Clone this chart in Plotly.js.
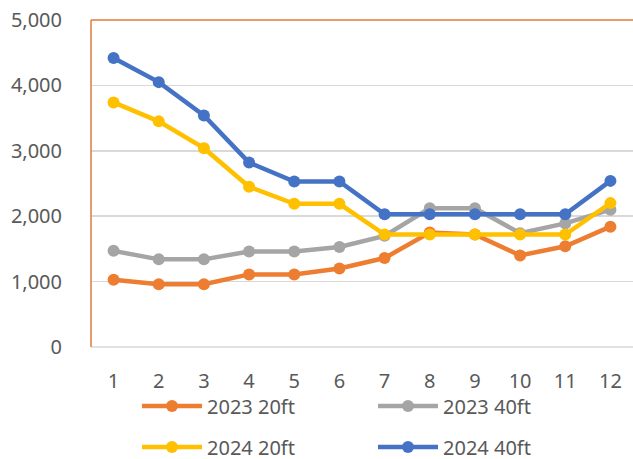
<!DOCTYPE html>
<html><head><meta charset="utf-8">
<script src="https://cdn.plot.ly/plotly-3.0.1.min.js"></script>
<style>html,body{margin:0;padding:0;background:#fff}#c{width:633px;height:459px}</style>
</head><body><div id="c"></div>
<script>
const months = ["1","2","3","4","5","6","7","8","9","10","11","12"];
const s2023_20 = [1030, 960, 960, 1110, 1110, 1200, 1360, 1750, 1720, 1400, 1540, 1840];
const s2023_40 = [1470, 1340, 1340, 1460, 1460, 1530, 1700, 2120, 2120, 1740, 1890, 2100];
const s2024_20 = [3740, 3450, 3040, 2450, 2190, 2190, 1720, 1720, 1720, 1720, 1720, 2200];
const s2024_40 = [4420, 4050, 3540, 2820, 2530, 2530, 2030, 2030, 2030, 2030, 2030, 2540];
const names = ["2023 20ft", "2023 40ft", "2024 20ft", "2024 40ft"];
const colors = ["#ED7D31", "#A5A5A5", "#FFC000", "#4472C4"];
const yTicks = [0, 1000, 2000, 3000, 4000, 5000];

const series = [s2023_20, s2023_40, s2024_20, s2024_40];
const traces = series.map((v, i) => ({
  x: months, y: v, name: names[i], type: "scatter", mode: "lines+markers",
  line: {color: colors[i], width: 4.5},
  marker: {color: colors[i], size: 12},
  legend: i < 2 ? "legend" : "legend2"
}));

const FONT = "Noto Sans, Open Sans, sans-serif";
const legendCommon = {
  orientation: "h", xref: "container", yref: "container",
  xanchor: "left", yanchor: "middle",
  font: {family: FONT, size: 20, color: "#595959"},
  itemwidth: 60, entrywidth: 161, entrywidthmode: "pixels",
  bgcolor: "rgba(0,0,0,0)", traceorder: "normal"
};

const layout = {
  width: 633, height: 459,
  margin: {l: 91, r: 0, t: 20, b: 112},
  paper_bgcolor: "#fff", plot_bgcolor: "#fff",
  showlegend: true,
  legend: Object.assign({}, legendCommon, {x: 137/633, y: 1 - 406/459}),
  legend2: Object.assign({}, legendCommon, {x: 137/633, y: 1 - 447/459}),
  xaxis: {
    type: "category", range: [-0.5, 11.5],
    showgrid: false, zeroline: false, showline: false,
    ticks: "outside", ticklen: 16, tickcolor: "rgba(0,0,0,0)",
    tickfont: {family: FONT, size: 20, color: "#595959"}
  },
  yaxis: {
    range: [0, 5000], tickvals: yTicks, tickformat: ",d",
    showgrid: true, gridcolor: "#D9D9D9", gridwidth: 1.5,
    zeroline: false, showline: false,
    ticks: "outside", ticklen: 24, tickcolor: "rgba(0,0,0,0)",
    tickfont: {family: FONT, size: 20, color: "#595959"}
  },
  shapes: [
    {type: "line", xref: "paper", yref: "paper", x0: 0, x1: 1, y0: 0, y1: 0, line: {color: "#D9D9D9", width: 1.5}, layer: "below"},
    {type: "line", xref: "paper", yref: "paper", x0: 0, x1: 0, y0: 0, y1: 1, line: {color: "#E07A3A", width: 1.5}},
    {type: "line", xref: "paper", yref: "paper", x0: 0, x1: 1, y0: 1, y1: 1, line: {color: "#E07A3A", width: 1.5}}
  ]
};

Plotly.newPlot("c", traces, layout, {displayModeBar: false, staticPlot: true});
</script></body></html>
